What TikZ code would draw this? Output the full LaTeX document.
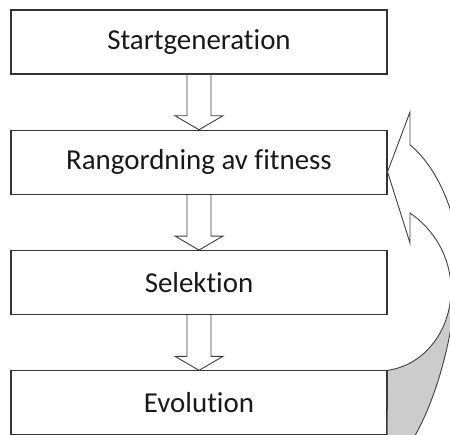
\documentclass[tikz,border=0pt]{standalone}
\usepackage{fontspec}
\setmainfont{Carlito}[Ligatures={NoCommon,NoRequired,NoContextual}]
\usetikzlibrary{calc}

\begin{document}
\begin{tikzpicture}[
        %Environment config
        x=1pt, y=1pt,
        font=\fontsize{28.9}{34}\selectfont,
        %Environment styles
        BoxCfg/.style={
            draw=black!80,
            line width=1.1pt,
            minimum width=376pt,
            minimum height=64pt,
            inner sep=0pt,
            text=black!90
        },
        ArrowCfg/.style={
            draw=black!75,
            line width=0.9pt,
            line join=miter
        },
        BackCfg/.style={
            ArrowCfg,
            fill=black!20
        }
    ]
    \useasboundingbox (0,0) rectangle (450,-434);
    \clip (0,0) rectangle (450,-434);

    \path
        (199,-42) node[BoxCfg](START){Startgeneration}
            ++ (0,-120.3) node[BoxCfg](RANK){Rangordning av fitness}
            ++ (0,-120.3) node[BoxCfg](SEL){Selektion}
            ++ (0,-120.3) node[BoxCfg](EVO){Evolution};

    %block arrows between the boxes
    \foreach \a/\b in {START/RANK, RANK/SEL, SEL/EVO}
        \draw[ArrowCfg]
            ([xshift=-12pt]\a.south) -- ($(\b.north)+(-12,14)$) -- ++(-12,0)
            -- (\b.north) -- ($(\b.north)+(24,14)$) -- ++(-12,0)
            -- ([xshift=12pt]\a.south);

    %curved arrow from Evolution back up
    \coordinate (TIP) at ([yshift=-9.5pt]RANK.east);
    \coordinate (FOOT) at (EVO.north east);

    \draw[ArrowCfg, fill=white]
        (TIP) -- (410,-112) -- (410,-145)
        .. controls (434,-164) and (458,-210) .. (458,-258)
        -- (451,-290)
        .. controls (451,-255) and (432,-228) .. (410,-213)
        -- (410,-243) -- cycle;

    \draw[BackCfg]
        (451,-290) .. controls (451,-330) and (425,-365) .. (FOOT)
        -- (387,-455) -- (406,-450)
        .. controls (442,-398) and (458,-310) .. (458,-258)
        -- cycle;
\end{tikzpicture}
\end{document}
